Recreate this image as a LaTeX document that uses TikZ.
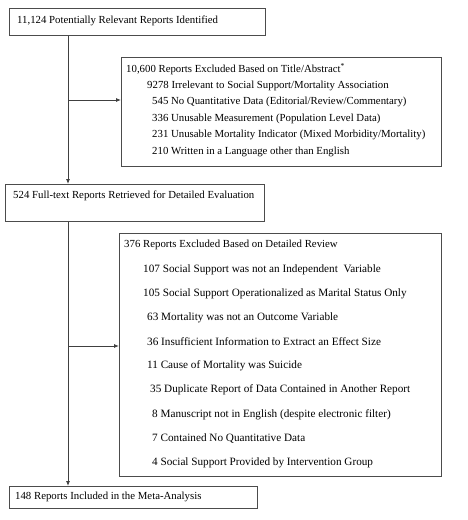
\documentclass[tikz,border=0pt]{standalone}
\usepackage{fontspec}
\setmainfont{Liberation Serif}
\usetikzlibrary{arrows.meta}
\begin{document}
\begin{tikzpicture}[x=1pt,y=-1pt,
  box/.style={draw=black!70, line width=0.9pt, inner sep=0pt, anchor=north west},
  txt/.style={anchor=west, inner sep=0pt, font=\fontsize{10.8}{12}\selectfont},
  subtxt/.style={anchor=west, inner sep=0pt, font=\fontsize{11.2}{12}\selectfont},
  conn/.style={draw=black!75, line width=0.8pt},
  arr/.style={conn, -{Latex[length=5pt,width=4pt]}}]
\useasboundingbox (0,0) rectangle (467,520);
% boxes
\node[box, minimum width=256pt, minimum height=27pt] (b1) at (9,8) {};
\node[box, minimum width=320pt, minimum height=109pt] (b2) at (121,57) {};
\node[box, minimum width=259pt, minimum height=37pt] (b3) at (5,184) {};
\node[box, minimum width=322pt, minimum height=243pt] (b4) at (119,233) {};
\node[box, minimum width=248pt, minimum height=22pt] (b5) at (9,486) {};
% texts
\node[txt] (t1) at (17,21) {11,124 Potentially Relevant Reports Identified};
\node[txt] (t2a) at (126,69) {10,600 Reports Excluded Based on Title/Abstract\textsuperscript{*}};
\node[txt] (t2b) at (147,85.5) {9278 Irrelevant to Social Support/Mortality Association};
\node[txt] (t2c) at (152,102) {545 No Quantitative Data (Editorial/Review/Commentary)};
\node[txt] (t2d) at (152,118.5) {336 Unusable Measurement (Population Level Data)};
\node[txt] (t2e) at (152,135) {231 Unusable Mortality Indicator (Mixed Morbidity/Mortality)};
\node[txt] (t2f) at (152,151.5) {210 Written in a Language other than English};
\node[txt] (t3) at (13,196) {524 Full-text Reports Retrieved for Detailed Evaluation};
\node[txt] (t4a) at (124,245) {376 Reports Excluded Based on Detailed Review};
\node[subtxt] (t4b) at (143,270) {107 Social Support was not an Independent\ \ Variable};
\node[subtxt] (t4c) at (143,294) {105 Social Support Operationalized as Marital Status Only};
\node[subtxt] (t4d) at (147,318) {63 Mortality was not an Outcome Variable};
\node[subtxt] (t4e) at (147,342) {36 Insufficient Information to Extract an Effect Size};
\node[subtxt] (t4f) at (147,366) {11 Cause of Mortality was Suicide};
\node[subtxt] (t4g) at (150,390) {35 Duplicate Report of Data Contained in Another Report};
\node[subtxt] (t4h) at (152,415) {8 Manuscript not in English (despite electronic filter)};
\node[subtxt] (t4i) at (152,439) {7 Contained No Quantitative Data};
\node[subtxt] (t4j) at (152,463) {4 Social Support Provided by Intervention Group};
\node[txt] (t5) at (15,497) {148 Reports Included in the Meta-Analysis};
% connectors
\coordinate (sp) at (68,0);
\coordinate (j1) at (68,100);
\coordinate (j2) at (68,346);
\draw[arr] (b1.south -| sp) -- (b3.north -| sp);
\draw[arr] (j1) -- (b2.west |- j1);
\draw[arr] (b3.south -| sp) -- (b5.north -| sp);
\draw[arr] (j2) -- (b4.west |- j2);
\end{tikzpicture}
\end{document}
